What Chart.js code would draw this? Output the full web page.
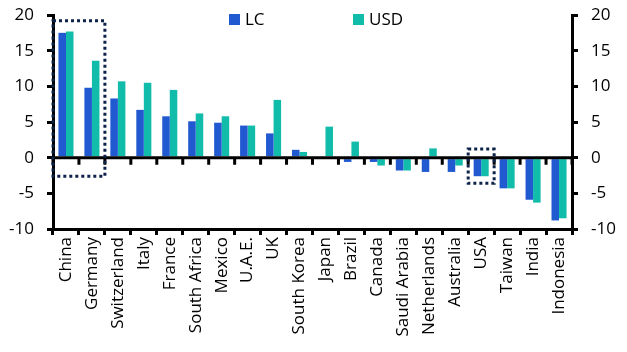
<!DOCTYPE html>
<html>
<head>
<meta charset="utf-8">
<script src="https://cdn.jsdelivr.net/npm/chart.js@4"></script>
<style>
  html, body { margin: 0; padding: 0; background: #fff; }
  #wrap { width: 627px; height: 352px; position: relative; }
</style>
</head>
<body>
<div id="wrap"><canvas id="chart"></canvas></div>
<script>
const countries = ["China", "Germany", "Switzerland", "Italy", "France", "South Africa", "Mexico", "U.A.E.", "UK", "South Korea",
  "Japan", "Brazil", "Canada", "Saudi Arabia", "Netherlands", "Australia", "USA", "Taiwan", "India", "Indonesia"];
const lcValues = [17.5, 9.8, 8.3, 6.7, 5.8, 5.1, 4.9, 4.5, 3.4, 1.1, 0, -0.6, -0.6, -1.8, -2.0, -2.0, -2.6, -4.3, -5.9, -8.8];
const usdValues = [17.7, 13.6, 10.7, 10.5, 9.5, 6.2, 5.8, 4.5, 8.1, 0.8, 4.35, 2.25, -1.1, -1.8, 1.3, -1.1, -2.6, -4.3, -6.3, -8.5];
const yTicks = [-10, -5, 0, 5, 10, 15, 20];

// highlighted groups: first/last category index, value top/bottom
const boxFrom = [0, 16];
const boxTo = [1, 16];
const boxTop = [19.2, 1.2];
const boxBottom = [-2.6, -3.6];

const FONT = { family: "'Open Sans', sans-serif", size: 17 };
const BLUE = "#2159d0";
const TEAL = "#12bcab";

const zeroLine = {
  id: "zeroLine",
  afterDatasetsDraw(chart) {
    const { ctx, chartArea, scales } = chart;
    const y0 = scales.y.getPixelForValue(0);
    const w = scales.x.getPixelForValue(1) - scales.x.getPixelForValue(0);
    ctx.save();
    ctx.strokeStyle = "#000";
    ctx.lineWidth = 3;
    ctx.beginPath();
    ctx.moveTo(chartArea.left, y0);
    ctx.lineTo(chartArea.right, y0);
    for (let i = 0; i <= countries.length; i++) {
      const px = scales.x.getPixelForValue(i) - w / 2;
      ctx.moveTo(px, y0);
      ctx.lineTo(px, y0 + 7);
    }
    ctx.stroke();
    ctx.restore();
  }
};

const boxes = {
  id: "boxes",
  afterDatasetsDraw(chart) {
    const { ctx, scales } = chart;
    const w = scales.x.getPixelForValue(1) - scales.x.getPixelForValue(0);
    ctx.save();
    ctx.strokeStyle = "#0d2248";
    ctx.lineWidth = 3;
    ctx.setLineDash([3, 3]);
    boxFrom.forEach((from, i) => {
      const x1 = scales.x.getPixelForValue(from) - w / 2;
      const x2 = scales.x.getPixelForValue(boxTo[i]) + w / 2;
      const y1 = scales.y.getPixelForValue(boxTop[i]);
      const y2 = scales.y.getPixelForValue(boxBottom[i]);
      ctx.strokeRect(x1, y1, x2 - x1, y2 - y1);
    });
    ctx.restore();
  }
};

const legendBoxes = {
  id: "legendBoxes",
  afterDraw(chart) {
    const { ctx } = chart;
    const starts = [229, 353];
    ctx.save();
    ctx.font = `${FONT.size}px ${FONT.family}`;
    ctx.textBaseline = "middle";
    chart.data.datasets.forEach((ds, i) => {
      ctx.fillStyle = ds.backgroundColor;
      ctx.fillRect(starts[i], 14, 11, 11);
      ctx.fillStyle = "#000";
      ctx.fillText(ds.label, starts[i] + 16, 20);
    });
    ctx.restore();
  }
};

function yAxis(position, width) {
  return {
    position,
    min: yTicks[0],
    max: yTicks[yTicks.length - 1],
    afterFit: (scale) => {
      scale.width = width;
      scale.paddingTop = 0;
      scale.paddingBottom = 0;
    },
    border: { color: "#000", width: 3 },
    grid: { drawOnChartArea: false, drawTicks: true, tickLength: 6, color: "#000", lineWidth: 3 },
    ticks: { color: "#000", font: FONT, padding: 13, stepSize: yTicks[1] - yTicks[0] }
  };
}

new Chart(document.getElementById("chart"), {
  type: "bar",
  data: {
    labels: countries,
    datasets: [
      { label: "LC", data: lcValues, backgroundColor: BLUE, yAxisID: "y" },
      { label: "USD", data: usdValues, backgroundColor: TEAL, yAxisID: "y" }
    ]
  },
  options: {
    responsive: true,
    maintainAspectRatio: false,
    animation: false,
    layout: { padding: { top: 15 } },
    categoryPercentage: 0.58,
    barPercentage: 1,
    plugins: { legend: { display: false }, tooltip: { enabled: false } },
    scales: {
      x: {
        afterFit: (scale) => { scale.height = 123; },
        border: { color: "#000", width: 3 },
        grid: { offset: true, drawOnChartArea: false, drawTicks: true, tickLength: 6, color: "#000", lineWidth: 3 },
        ticks: { color: "#000", font: FONT, maxRotation: 90, minRotation: 90, autoSkip: false, padding: 2 }
      },
      y: yAxis("left", 53),
      y2: yAxis("right", 55)
    }
  },
  plugins: [zeroLine, boxes, legendBoxes]
});
</script>
</body>
</html>
